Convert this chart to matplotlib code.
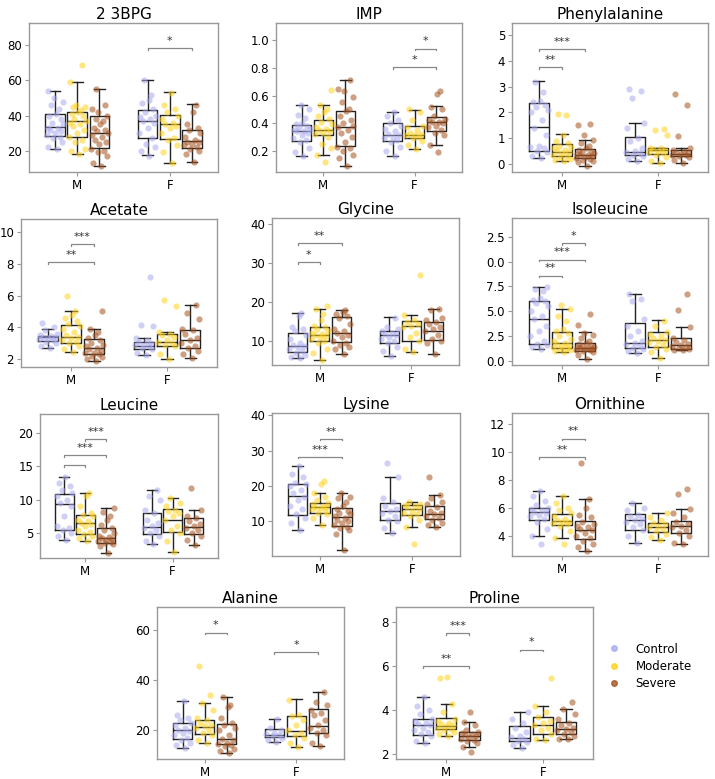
import numpy as np
import matplotlib
matplotlib.use("Agg")
import matplotlib.pyplot as plt
from matplotlib.lines import Line2D

GROUPS = ["Control", "Moderate", "Severe"]
SEXES = ["M", "F"]
COLORS = ["#aaaaf2", "#ffd21a", "#a55220"]

TITLES = ["2 3BPG", "IMP", "Phenylalanine", "Acetate", "Glycine", "Isoleucine",
          "Leucine", "Lysine", "Ornithine", "Alanine", "Proline"]

# box stats per panel: (whislo, q1, med, q3, whishi) for M-C, M-Mod, M-Sev, F-C, F-Mod, F-Sev
bpg_box = [(21, 28.6, 33.2, 40.8, 54), (18, 27.8, 37, 42.3, 59), (11.4, 21.5, 30.3, 39.9, 55),
           (17.3, 27.3, 37, 43.1, 60.3), (12.9, 26.9, 34.9, 40.4, 53.2), (13.5, 21.7, 25.2, 32, 46.4)]
imp_box = [(0.164, 0.272, 0.343, 0.386, 0.529), (0.171, 0.314, 0.347, 0.42, 0.529), (0.091, 0.236, 0.374, 0.49, 0.71),
           (0.164, 0.268, 0.316, 0.40, 0.483), (0.215, 0.294, 0.314, 0.379, 0.497), (0.243, 0.345, 0.41, 0.446, 0.526)]
phe_box = [(0.21, 0.49, 1.42, 2.38, 3.23), (0.10, 0.30, 0.47, 0.78, 1.17), (-0.08, 0.21, 0.34, 0.58, 0.94),
           (0.10, 0.32, 0.45, 1.05, 1.6), (0.04, 0.36, 0.55, 0.62, 0.62), (0.04, 0.30, 0.39, 0.53, 0.61)]
ace_box = [(2.72, 3.16, 3.37, 3.48, 3.9), (2.44, 3.01, 3.37, 4.17, 5.0), (1.87, 2.32, 2.70, 3.29, 3.92),
           (2.23, 2.63, 2.84, 3.08, 3.33), (2.02, 2.80, 3.08, 3.58, 3.73), (2.08, 2.70, 3.22, 3.81, 5.42)]
gly_box = [(5.6, 7.35, 8.8, 12.2, 17.3), (5.2, 10, 11.5, 13.5, 18.2), (6.8, 9.7, 12, 16.3, 17.9),
           (6.1, 9.6, 11.5, 12.7, 16.2), (7.1, 10, 13.8, 15.2, 16.8), (6.7, 10.3, 12.7, 14.9, 18.3)]
ile_box = [(1.18, 1.68, 4.24, 6.06, 7.41), (0.91, 1.28, 1.75, 2.93, 5.19), (0.13, 1.01, 1.31, 1.82, 2.86),
           (0.74, 1.31, 1.75, 3.84, 6.73), (0.30, 1.35, 2.09, 2.86, 4.07), (1.08, 1.21, 1.58, 2.26, 3.43)]
leu_box = [(3.9, 5.5, 9.3, 10.8, 13.4), (3.8, 4.9, 6.5, 7.7, 11), (2.04, 3.54, 4.2, 5.8, 8.8),
           (3.4, 4.9, 5.85, 8.0, 11.4), (2.2, 5.15, 7.0, 8.6, 10.2), (3.2, 4.8, 5.85, 7.2, 8.4)]
lys_box = [(7.7, 11.7, 17.2, 20.6, 25.8), (9.0, 12.5, 14, 15.3, 18), (1.8, 8.8, 11.2, 13.7, 18.1),
           (6.6, 10.3, 12.9, 15.3, 22.7), (8.3, 11.7, 13.5, 14.6, 15.5), (8.3, 10.8, 12.1, 14.5, 17.4)]
orn_box = [(3.95, 5.1, 5.67, 6.0, 7.2), (3.83, 4.76, 5.02, 5.57, 6.8), (2.93, 3.74, 4.38, 5.07, 6.62),
           (3.5, 4.43, 5.1, 5.55, 6.36), (3.67, 4.24, 4.62, 4.9, 5.6), (3.38, 4.19, 4.67, 5.05, 5.93)]
ala_box = [(13, 16.4, 20, 22.9, 31.5), (14.7, 18.4, 21.3, 24.2, 30.9), (10.7, 14.4, 16.3, 22.5, 33.1),
           (15.4, 17.1, 17.9, 20.5, 24.5), (13.4, 17.5, 19.6, 25.7, 32.2), (13.8, 18.7, 21.5, 28.3, 35.2)]
pro_box = [(2.48, 2.85, 3.30, 3.57, 4.57), (2.82, 3.13, 3.27, 3.62, 4.27), (2.33, 2.62, 2.83, 2.98, 3.47),
           (2.26, 2.59, 2.74, 3.27, 3.92), (2.63, 2.89, 3.30, 3.68, 4.2), (2.66, 2.89, 3.15, 3.45, 4.05)]

# individual points, same group order
bpg_pts = [[21, 22, 25, 27, 28, 29, 30, 31, 32, 33, 33, 35, 36, 38, 40, 41, 44, 46, 48, 50, 54],
           [18, 20, 21, 25, 26, 28, 30, 32, 34, 35, 36, 37, 38, 40, 41, 42, 43, 45, 45, 46, 59, 69],
           [11.5, 13, 17, 19, 20, 21, 24, 25, 26, 28, 29, 30, 31, 32, 33, 35, 37, 38, 40, 42, 44, 46, 55],
           [17, 20, 22, 24, 27, 30, 33, 36, 37, 38, 39, 40, 42, 44, 47, 49, 52, 60],
           [13, 19, 23, 26, 27, 30, 33, 34, 35, 36, 38, 40, 42, 44, 46, 53],
           [13.5, 18, 20, 21, 22, 23, 24, 25, 25, 26, 28, 30, 32, 33, 35, 42, 46]]
imp_pts = [[0.16, 0.19, 0.22, 0.26, 0.28, 0.29, 0.31, 0.33, 0.34, 0.34, 0.35, 0.36, 0.37, 0.38, 0.39, 0.40, 0.44, 0.46, 0.50, 0.53],
           [0.12, 0.17, 0.22, 0.25, 0.30, 0.32, 0.33, 0.34, 0.35, 0.36, 0.37, 0.39, 0.41, 0.43, 0.45, 0.48, 0.50, 0.53, 0.64],
           [0.09, 0.15, 0.17, 0.20, 0.22, 0.23, 0.26, 0.30, 0.33, 0.35, 0.37, 0.38, 0.40, 0.42, 0.45, 0.49, 0.50, 0.55, 0.59, 0.63, 0.65, 0.71],
           [0.16, 0.20, 0.23, 0.26, 0.28, 0.29, 0.30, 0.31, 0.32, 0.34, 0.36, 0.38, 0.40, 0.42, 0.45, 0.48],
           [0.21, 0.24, 0.27, 0.29, 0.30, 0.31, 0.31, 0.32, 0.33, 0.35, 0.37, 0.38, 0.42, 0.48, 0.50],
           [0.19, 0.24, 0.31, 0.33, 0.35, 0.37, 0.38, 0.40, 0.41, 0.41, 0.42, 0.43, 0.45, 0.50, 0.52, 0.61, 0.63]]
phe_pts = [[0.21, 0.3, 0.45, 0.5, 0.6, 0.65, 0.7, 1.1, 1.4, 1.7, 2.0, 2.1, 2.2, 2.3, 2.4, 2.45, 2.8, 3.2],
           [0.1, 0.15, 0.2, 0.25, 0.3, 0.35, 0.4, 0.45, 0.5, 0.55, 0.6, 0.65, 0.7, 0.8, 0.9, 1.1, 1.9, 1.95],
           [-0.08, 0.05, 0.1, 0.15, 0.2, 0.22, 0.25, 0.3, 0.32, 0.35, 0.38, 0.4, 0.45, 0.5, 0.55, 0.6, 0.7, 0.8, 0.94, 1.1, 1.5, 1.55],
           [0.1, 0.2, 0.3, 0.35, 0.4, 0.45, 0.5, 0.6, 0.9, 1.0, 1.4, 1.6, 2.57, 2.85, 2.9],
           [0.04, 0.1, 0.25, 0.35, 0.4, 0.45, 0.5, 0.55, 0.58, 0.6, 0.62, 1.1, 1.3, 1.35],
           [0.04, 0.15, 0.25, 0.3, 0.32, 0.35, 0.38, 0.4, 0.45, 0.5, 0.55, 0.6, 1.08, 2.28, 2.7]]
ace_pts = [[2.7, 2.8, 3.0, 3.1, 3.2, 3.25, 3.3, 3.35, 3.4, 3.45, 3.5, 3.6, 3.8, 4.0, 4.3],
           [2.45, 2.6, 2.8, 3.0, 3.1, 3.2, 3.3, 3.4, 3.5, 3.7, 3.9, 4.1, 4.2, 4.4, 4.6, 4.8, 5.0, 5.95],
           [1.87, 2.0, 2.1, 2.2, 2.3, 2.35, 2.4, 2.5, 2.6, 2.7, 2.8, 2.9, 3.0, 3.2, 3.3, 3.5, 3.7, 3.9, 5.0],
           [2.23, 2.4, 2.6, 2.7, 2.8, 2.85, 2.9, 3.0, 3.1, 3.2, 3.33, 4.1, 4.15, 7.2],
           [2.0, 2.3, 2.8, 2.9, 3.0, 3.1, 3.2, 3.4, 3.5, 3.6, 3.7, 5.35, 5.75],
           [2.08, 2.3, 2.5, 2.7, 2.8, 3.0, 3.2, 3.3, 3.6, 3.8, 3.9, 4.5, 4.9, 5.4]]
gly_pts = [[5.6, 6.0, 6.5, 7.0, 7.5, 8.0, 8.5, 8.8, 9.0, 9.5, 10.5, 11.5, 12.5, 13.0, 13.5, 16.5, 17.3],
           [5.2, 7.0, 8.0, 9.5, 10.0, 10.5, 11.0, 11.3, 11.5, 11.8, 12.0, 12.5, 13.0, 13.5, 14.0, 15.5, 17.0, 18.2, 19.0],
           [6.8, 8.0, 8.5, 9.0, 9.5, 10.0, 11.0, 11.5, 12.0, 12.5, 13.0, 14.5, 16.0, 16.5, 17.0, 17.5, 17.9],
           [6.1, 7.5, 8.5, 9.5, 10.0, 10.5, 11.0, 11.5, 11.8, 12.0, 12.5, 13.0, 13.5, 16.0],
           [7.1, 8.0, 10.0, 11.0, 12.0, 13.5, 14.0, 14.5, 15.0, 15.5, 16.8, 26.8],
           [6.7, 9.5, 10.0, 10.5, 11.5, 12.5, 13.0, 13.5, 14.5, 15.0, 15.5, 16.0, 18.0, 18.3]]
ile_pts = [[1.2, 1.4, 1.6, 1.7, 2.0, 2.5, 3.0, 3.5, 4.2, 4.5, 5.0, 5.5, 5.8, 6.0, 6.1, 6.3, 7.0, 7.2, 7.4],
           [0.9, 1.0, 1.1, 1.2, 1.3, 1.4, 1.5, 1.6, 1.7, 1.8, 2.0, 2.2, 2.5, 2.8, 3.0, 3.2, 4.0, 4.5, 5.2, 5.6],
           [0.13, 0.6, 0.9, 1.0, 1.05, 1.1, 1.15, 1.2, 1.25, 1.3, 1.35, 1.4, 1.5, 1.6, 1.7, 1.8, 2.0, 2.3, 2.6, 2.8, 3.6, 4.7],
           [0.74, 1.0, 1.2, 1.3, 1.5, 1.7, 1.75, 2.0, 2.5, 3.0, 3.5, 4.2, 6.0, 6.2, 6.7],
           [0.3, 0.9, 1.2, 1.4, 1.6, 1.9, 2.0, 2.1, 2.3, 2.5, 2.7, 2.9, 3.5, 4.0],
           [1.08, 1.1, 1.2, 1.3, 1.4, 1.5, 1.6, 1.7, 1.9, 2.1, 2.3, 3.4, 5.1, 6.7]]
leu_pts = [[3.9, 4.5, 5.0, 5.5, 5.8, 6.0, 7.5, 9.0, 9.5, 10.0, 10.5, 11.0, 11.5, 12.0, 12.5, 13.4],
           [3.8, 4.2, 4.5, 4.9, 5.2, 5.5, 6.0, 6.3, 6.5, 6.8, 7.0, 7.5, 7.7, 8.0, 9.0, 10.5, 11.0],
           [2.0, 3.0, 3.3, 3.5, 3.6, 3.8, 4.0, 4.1, 4.2, 4.4, 4.6, 5.0, 5.5, 5.8, 6.2, 7.0, 7.5, 8.2, 8.8],
           [3.4, 3.8, 4.5, 5.0, 5.5, 5.8, 6.0, 6.5, 7.0, 8.0, 8.5, 10.0, 10.5, 11.4],
           [2.2, 3.8, 5.0, 5.5, 6.0, 7.0, 7.5, 8.0, 8.3, 8.5, 9.0, 9.5, 10.2],
           [3.2, 4.0, 4.5, 5.0, 5.5, 5.8, 6.0, 6.3, 6.8, 7.2, 7.5, 8.4, 11.7]]
lys_pts = [[7.7, 9.5, 11.0, 12.0, 13.5, 14.5, 16.0, 17.0, 18.0, 19.0, 20.0, 20.5, 21.0, 22.5, 23.5, 25.8],
           [9.0, 11.0, 12.0, 12.5, 13.0, 13.5, 13.8, 14.0, 14.2, 14.5, 15.0, 15.3, 16.0, 17.0, 18.0, 20.5, 21.5],
           [1.8, 6.5, 7.5, 8.0, 8.5, 9.0, 9.5, 10.0, 10.5, 11.0, 11.5, 12.0, 12.5, 13.0, 13.5, 14.5, 15.5, 16.5, 17.0, 18.0],
           [6.6, 8.0, 10.0, 10.5, 11.5, 12.5, 13.0, 13.5, 14.5, 15.5, 16.5, 22.7, 26.5],
           [3.5, 8.3, 10.5, 11.5, 12.0, 12.5, 13.0, 13.5, 14.0, 14.3, 14.6, 15.0, 15.5],
           [8.3, 9.0, 9.5, 10.5, 11.0, 11.5, 12.0, 12.5, 13.0, 14.0, 15.0, 15.5, 16.5, 17.4, 22.5]]
orn_pts = [[3.4, 3.95, 4.5, 5.0, 5.2, 5.4, 5.5, 5.6, 5.7, 5.8, 5.9, 6.0, 6.2, 6.5, 6.8, 7.2],
           [3.4, 3.83, 4.3, 4.7, 4.8, 4.9, 5.0, 5.0, 5.1, 5.2, 5.4, 5.6, 5.8, 6.0, 6.3, 6.8],
           [2.93, 3.2, 3.4, 3.6, 3.8, 4.0, 4.2, 4.4, 4.5, 4.6, 4.7, 4.8, 5.0, 5.3, 5.5, 6.0, 6.6, 9.2],
           [3.5, 4.0, 4.4, 4.6, 4.8, 5.0, 5.1, 5.2, 5.4, 5.5, 5.8, 6.0, 6.36],
           [3.67, 3.9, 4.1, 4.3, 4.5, 4.6, 4.7, 4.8, 4.9, 5.1, 5.3, 5.6],
           [3.38, 3.5, 4.0, 4.2, 4.4, 4.6, 4.7, 4.8, 5.0, 5.3, 5.6, 5.9, 6.95, 7.35]]
ala_pts = [[13, 14, 15, 16, 17, 18, 19, 19.5, 20, 21, 22, 23, 24, 25, 26, 31.5],
           [14.7, 16, 18, 19, 20, 21, 21.5, 22, 23, 24, 25, 28, 30.9, 34, 45.5],
           [10.7, 11.5, 12.5, 13.5, 14, 14.5, 15, 16, 16.5, 18, 20, 21, 22, 23, 25, 29, 30, 33],
           [15.4, 16, 17, 17.5, 18, 18.5, 19, 20, 21, 24.5],
           [13.4, 15, 17, 18, 19, 20, 22, 24, 25.5, 26, 32],
           [13.8, 15, 18, 19, 20, 21, 22, 24, 26, 27, 28, 30, 31, 35]]
pro_pts = [[2.48, 2.6, 2.8, 2.9, 3.0, 3.1, 3.2, 3.3, 3.35, 3.4, 3.5, 3.6, 3.8, 4.0, 4.2, 4.57],
           [2.82, 2.9, 3.0, 3.1, 3.15, 3.2, 3.25, 3.3, 3.35, 3.4, 3.5, 3.6, 3.9, 4.27, 5.45, 5.5],
           [2.1, 2.33, 2.5, 2.6, 2.65, 2.7, 2.75, 2.8, 2.85, 2.9, 2.95, 3.0, 3.1, 3.3, 3.47, 3.9],
           [2.26, 2.4, 2.55, 2.6, 2.7, 2.75, 2.8, 3.0, 3.2, 3.4, 3.6, 3.92],
           [2.63, 2.7, 2.9, 3.1, 3.2, 3.3, 3.4, 3.5, 3.7, 3.9, 4.2, 5.45],
           [2.66, 2.7, 2.8, 2.9, 3.0, 3.1, 3.15, 3.2, 3.3, 3.4, 3.6, 3.8, 4.05, 4.35]]

# significance brackets: (sex index, group a, group b, height, label)
bpg_sig = [(1, 0, 2, 78.3, "*")]
imp_sig = [(1, 0, 2, 0.804, "*"), (1, 1, 2, 0.94, "*")]
phe_sig = [(0, 0, 1, 3.75, "**"), (0, 0, 2, 4.47, "***")]
ace_sig = [(0, 0, 2, 8.1, "**"), (0, 1, 2, 9.24, "***")]
gly_sig = [(0, 0, 1, 30.3, "*"), (0, 0, 2, 35.0, "**")]
ile_sig = [(0, 0, 1, 8.59, "**"), (0, 0, 2, 10.2, "***"), (0, 1, 2, 11.85, "*")]
leu_sig = [(0, 0, 1, 15.25, ""), (0, 0, 2, 16.66, "***"), (0, 1, 2, 19.07, "***")]
lys_sig = [(0, 0, 2, 28.3, "***"), (0, 1, 2, 33.4, "**")]
orn_sig = [(0, 0, 2, 9.62, "**"), (0, 1, 2, 10.93, "**")]
ala_sig = [(0, 1, 2, 58.8, "*"), (1, 0, 2, 51.1, "*")]
pro_sig = [(0, 0, 2, 5.99, "**"), (0, 1, 2, 7.5, "***"), (1, 0, 1, 6.74, "*")]

BOXES = [bpg_box, imp_box, phe_box, ace_box, gly_box, ile_box, leu_box, lys_box, orn_box, ala_box, pro_box]
POINTS = [bpg_pts, imp_pts, phe_pts, ace_pts, gly_pts, ile_pts, leu_pts, lys_pts, orn_pts, ala_pts, pro_pts]
SIGS = [bpg_sig, imp_sig, phe_sig, ace_sig, gly_sig, ile_sig, leu_sig, lys_sig, orn_sig, ala_sig, pro_sig]

YTICKS = [[20, 40, 60, 80], [0.2, 0.4, 0.6, 0.8, 1.0], [0, 1, 2, 3, 4, 5], [2, 4, 6, 8, 10],
          [10, 20, 30, 40], [0, 2.5, 5, 7.5, 10, 12.5], [5, 10, 15, 20], [10, 20, 30, 40],
          [4, 6, 8, 10, 12], [20, 40, 60], [2, 4, 6, 8]]
YLABELS = [None, ["0.2", "0.4", "0.6", "0.8", "1.0"], None, None, None,
           ["0.0", "2.5", "5.0", "7.5", "0.0", "2.5"], None, None, None, None, None]
YLIMS = [(7.8, 92.8), (0.045, 1.126), (-0.325, 5.48), (1.49, 10.84), (3.9, 41.5), (-0.44, 14.4),
         (1.23, 22.9), (0.2, 40.7), (2.55, 12.76), (8.5, 69), (1.77, 8.68)]

# axes rectangles in pixels: left, right, top, bottom
RECTS = [(29, 218, 23, 172), (276, 462, 23, 172), (512, 708, 23, 172),
         (21, 217, 219, 367), (272, 459, 218, 365), (512, 708, 218, 365),
         (40, 218, 414, 558), (272, 460, 413, 556), (512, 708, 413, 556),
         (157, 344, 607, 759), (396, 593, 607, 759)]

W, H = 715, 779
OFF = 0.24
BW = 0.21
JIT = np.array([0.02, -0.07, 0.08, -0.02, 0.05, -0.09, 0.0, 0.07, -0.05, 0.03, -0.08, 0.09,
                -0.03, 0.06, -0.06, 0.01, 0.04, -0.04, 0.085, -0.01, -0.075, 0.055, -0.035, 0.025])

plt.rcParams["font.family"] = "DejaVu Sans"
fig = plt.figure(figsize=(W / 100, H / 100), dpi=100)

for i in range(len(TITLES)):
    l, r, t, b = RECTS[i]
    ax = fig.add_axes([l / W, 1 - b / H, (r - l) / W, (b - t) / H])
    pos = []
    stats = []
    for s in range(2):
        for g in range(3):
            k = s * 3 + g
            lo, q1, med, q3, hi = BOXES[i][k]
            stats.append(dict(whislo=lo, q1=q1, med=med, q3=q3, whishi=hi, fliers=[]))
            pos.append(s + (g - 1) * OFF)
    ax.bxp(stats, positions=pos, widths=BW, showfliers=False, capwidths=BW * 0.55,
           boxprops=dict(color="#222222", linewidth=1.0),
           medianprops=dict(color="#222222", linewidth=1.0),
           whiskerprops=dict(color="#222222", linewidth=1.0),
           capprops=dict(color="#222222", linewidth=1.0), zorder=2)
    for k in range(6):
        vals = np.array(POINTS[i][k])
        xs = pos[k] + np.resize(JIT, len(vals))
        ax.scatter(xs, vals, s=20, color=COLORS[k % 3], alpha=0.55, linewidths=0, zorder=3)
    for s, a, c, y, lab in SIGS[i]:
        x1 = s + (a - 1) * OFF
        x2 = s + (c - 1) * OFF
        span = YLIMS[i][1] - YLIMS[i][0]
        d = span * 0.012
        ax.plot([x1, x1, x2, x2], [y - d, y, y, y - d], color="#888888", lw=0.9, zorder=4)
        if lab:
            ax.text((x1 + x2) / 2, y + span * 0.015, lab, ha="center", va="bottom",
                    fontsize=8, color="#333333")
    ax.set_xlim(-0.52, 1.52)
    ax.set_ylim(*YLIMS[i])
    ax.set_xticks([0, 1])
    ax.set_xticklabels(SEXES)
    ax.set_yticks(YTICKS[i])
    if YLABELS[i] is not None:
        ax.set_yticklabels(YLABELS[i])
    ax.tick_params(labelsize=8.5, length=3, color="#999999", pad=2)
    for sp in ax.spines.values():
        sp.set_color("#999999")
        sp.set_linewidth(1.0)
    ax.set_title(TITLES[i], fontsize=11, pad=3)

handles = [Line2D([], [], marker="o", ls="", color=c, alpha=0.8, markersize=4) for c in COLORS]
fig.legend(handles, GROUPS, loc="upper left", bbox_to_anchor=(592 / W, 1 - 632 / H),
           frameon=False, fontsize=8.5, handletextpad=0.8, labelspacing=0.35)

fig.savefig("out.png", dpi=100)
